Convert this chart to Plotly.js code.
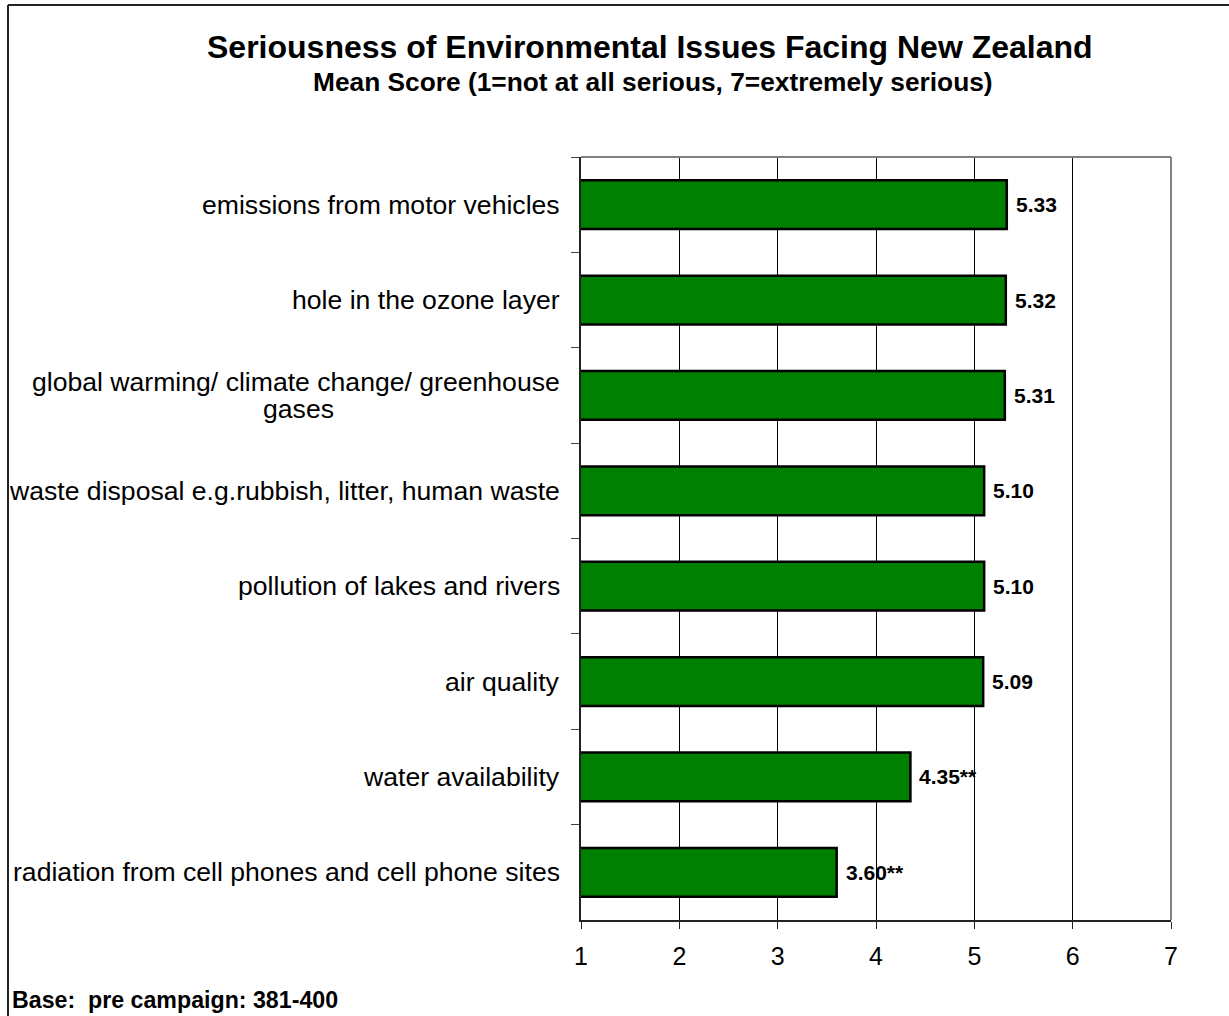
<!DOCTYPE html>
<html>
<head>
<meta charset="utf-8">
<script src="https://cdn.plot.ly/plotly-3.0.1.min.js"></script>
<style>html,body{margin:0;padding:0;background:#fff;}#chart{width:1229px;height:1016px;}</style>
</head>
<body>
<div id="chart"></div>
<script>
const categories = [
  "emissions from motor vehicles",
  "hole in the ozone layer",
  "global warming/ climate change/ greenhouse<br>gases",
  "waste disposal e.g.rubbish, litter, human waste",
  "pollution of lakes and rivers",
  "air quality",
  "water availability",
  "radiation from cell phones and cell phone sites"
];
const meanScores = [5.33, 5.32, 5.31, 5.10, 5.10, 5.09, 4.35, 3.60];
const significance = ["", "", "", "", "", "", "**", "**"];
const xTickValues = [1, 2, 3, 4, 5, 6, 7];
const titleText = "Seriousness of Environmental Issues Facing New Zealand";
const subtitleText = "Mean Score (1=not at all serious, 7=extremely serious)";
const footnoteText = "Base:\u00a0 pre campaign: 381-400";

const font = "Arial, 'Liberation Sans', sans-serif";
const W = 1229, H = 1016;
const M = {l: 581, r: 58, t: 157, b: 96};
const pw = W - M.l - M.r, ph = H - M.t - M.b;
const px2x = px => (px - M.l) / pw;
const py2y = py => 1 - (py - M.t) / ph;

const catSize = 26.6, catGap = 19, lineStep = 27;
const ctx = document.createElement("canvas").getContext("2d");
ctx.font = catSize + "px 'Liberation Sans', Arial, sans-serif";

const catAnnotations = [];
categories.forEach(c => {
  const lines = c.split("<br>");
  const w0 = ctx.measureText(lines[0]).width;
  lines.forEach((ln, i) => {
    catAnnotations.push({
      text: ln, x: 0, xref: "paper", y: c, yref: "y",
      xanchor: i === 0 ? "right" : "center", yanchor: "middle",
      xshift: i === 0 ? -catGap : -catGap - w0 / 2,
      yshift: ((lines.length - 1) / 2 - i) * lineStep,
      showarrow: false, font: {family: font, size: catSize, color: "#000"}
    });
  });
});

const valueAnnotations = meanScores.map((v, i) => ({
  text: "<b>" + v.toFixed(2) + significance[i] + "</b>",
  x: v, xref: "x", y: categories[i], yref: "y",
  xanchor: "left", yanchor: "middle", xshift: 7,
  showarrow: false, font: {family: font, size: 21, color: "#000"}
}));

const trace = {
  type: "bar",
  orientation: "h",
  y: categories,
  x: meanScores,
  base: 0,
  marker: {color: "#008000", line: {color: "#000000", width: 2.5}},
  hoverinfo: "skip"
};

const layout = {
  width: W, height: H,
  margin: M,
  paper_bgcolor: "#fff", plot_bgcolor: "#fff",
  showlegend: false,
  bargap: 0.49,
  xaxis: {
    range: [1, 7], tickvals: xTickValues, fixedrange: true,
    showgrid: true, gridcolor: "#000", gridwidth: 1,
    showline: true, linecolor: "#222", linewidth: 2,
    ticks: "outside", ticklen: 7, tickcolor: "#222", tickwidth: 1,
    tickfont: {family: font, size: 25, color: "#000"},
    ticklabelstandoff: 6,
    zeroline: false
  },
  yaxis: {
    type: "category", autorange: "reversed",
    showticklabels: false, tickson: "boundaries",
    ticks: "outside", ticklen: 8, tickcolor: "#444", tickwidth: 1,
    showline: true, linecolor: "#222", linewidth: 2,
    showgrid: false, zeroline: false
  },
  shapes: [
    {type: "line", xref: "paper", yref: "paper", x0: 0, x1: 1, y0: 1, y1: 1, line: {color: "#808080", width: 2}},
    {type: "line", xref: "paper", yref: "paper", x0: 1, x1: 1, y0: 0, y1: 1, line: {color: "#808080", width: 2}},
    {type: "line", xref: "paper", yref: "paper", x0: px2x(8), x1: px2x(8), y0: py2y(1030), y1: py2y(5), line: {color: "#222", width: 2}},
    {type: "line", xref: "paper", yref: "paper", x0: px2x(8), x1: px2x(1240), y0: py2y(5), y1: py2y(5), line: {color: "#222", width: 2}}
  ],
  annotations: catAnnotations.concat(valueAnnotations).concat([
    {text: "<b>" + titleText + "</b>", xref: "paper", yref: "paper",
     x: px2x(650), y: py2y(47), xanchor: "center", yanchor: "middle",
     showarrow: false, font: {family: font, size: 32, color: "#000"}},
    {text: "<b>" + subtitleText + "</b>", xref: "paper", yref: "paper",
     x: px2x(653), y: py2y(82), xanchor: "center", yanchor: "middle",
     showarrow: false, font: {family: font, size: 26.3, color: "#000"}},
    {text: "<b>" + footnoteText + "</b>", xref: "paper", yref: "paper",
     x: px2x(10), y: py2y(1000), xanchor: "left", yanchor: "middle",
     showarrow: false, font: {family: font, size: 23.2, color: "#000"}}
  ])
};

Plotly.newPlot("chart", [trace], layout, {displayModeBar: false, staticPlot: true});
</script>
</body>
</html>
